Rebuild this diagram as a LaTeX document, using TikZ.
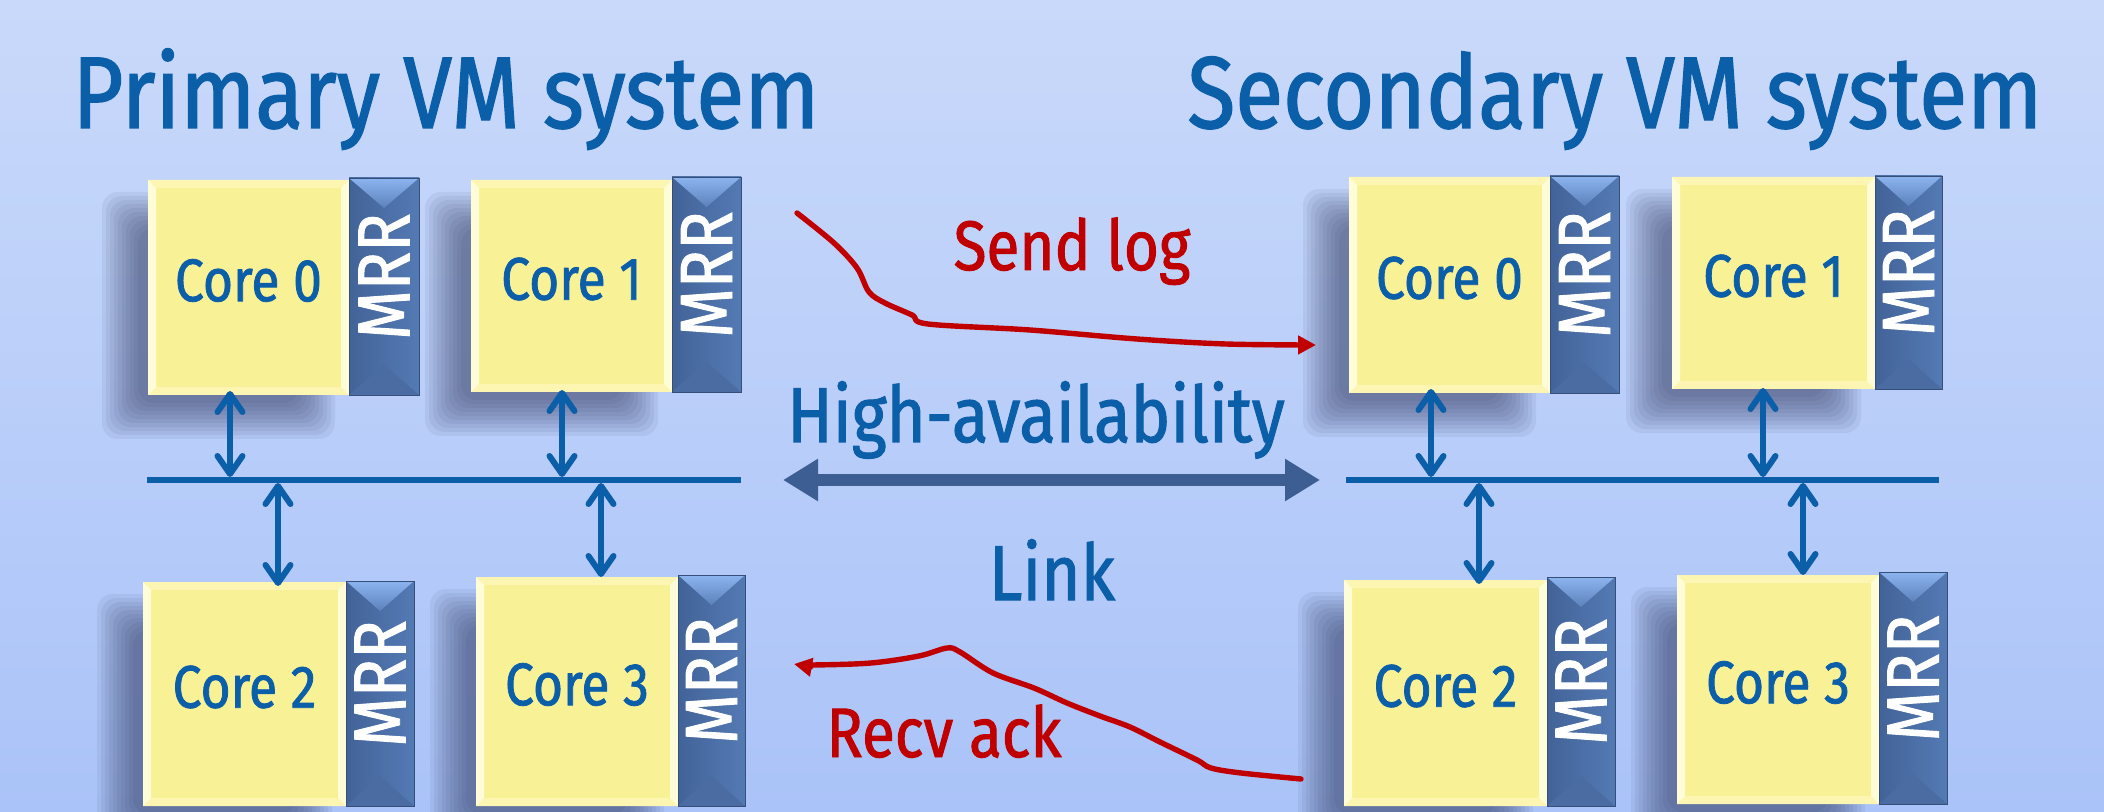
\documentclass[tikz,border=0pt]{standalone}
\usepackage{fontspec}
\setmainfont{Fira Sans}[FakeStretch=0.86, FakeBold=1.3]
\usetikzlibrary{arrows.meta}
\definecolor{bgtop}{RGB}{201,217,250}
\definecolor{bgbot}{RGB}{170,195,248}
\definecolor{txtblue}{RGB}{11,94,168}
\definecolor{linkblue}{RGB}{61,94,146}
\definecolor{logred}{RGB}{192,0,0}
\definecolor{coreyel}{RGB}{249,241,150}
\definecolor{yelhi}{RGB}{255,253,215}
\definecolor{yelmid}{RGB}{252,246,178}
\definecolor{mrrdark}{RGB}{66,99,152}
\definecolor{mrrlight}{RGB}{84,122,180}
\definecolor{mrrtopA}{RGB}{140,180,238}
\definecolor{mrrtopB}{RGB}{92,130,188}
\definecolor{mrrbot}{RGB}{74,108,163}
\definecolor{shadowcol}{RGB}{40,50,90}
\tikzset{
  corebox/.style={fill=coreyel, inner sep=0pt, outer sep=0pt, anchor=north west},
  corelabel/.style={text=txtblue, inner sep=0pt, font=\fontsize{30}{32}\selectfont},
  mrrbox/.style={left color=mrrdark, right color=mrrlight, inner sep=0pt, outer sep=0pt, anchor=north west},
  mrrtext/.style={rotate=90, text=white, inner sep=0pt, font=\fontsize{37}{39}\selectfont},
  busline/.style={draw=txtblue, line width=2.6pt},
  busarrow/.style={draw=txtblue, line width=3pt,
    {Straight Barb[length=9pt,width=12.5pt,round]}-{Straight Barb[length=9pt,width=12.5pt,round]}},
  haarrow/.style={draw=linkblue, line width=6pt,
    {Triangle[length=17.5pt,width=20pt]}-{Triangle[length=17.5pt,width=20pt]}},
  logcurve/.style={draw=logred, line width=2.7pt, line cap=round, line join=round},
  title/.style={text=txtblue, inner sep=0pt, anchor=base west, font=\fontsize{51}{54}\selectfont},
  midtext/.style={text=txtblue, inner sep=0pt, anchor=base, font=\fontsize{39}{42}\selectfont},
  redtext/.style={text=logred, inner sep=0pt, anchor=base, font=\fontsize{35}{38}\selectfont},
}
% #1 name, #2 yellow left, #3 yellow right / MRR left, #4 MRR right,
% #5 yellow top, #6 bottom, #7 label, #8 MRR top
\newcommand\coreunit[8]{%
  \foreach \k in {0,...,9}{%
    \fill[shadowcol, opacity=0.07, rounded corners=8pt]
      ({#2-30-16+4*\k},{#5+28-16+4*\k}) rectangle ({#3-30+16-4*\k},{#6+28+16-4*\k});}
  \node[corebox, minimum width={(#3-#2)*0.5pt}, minimum height={(#6-#5)*0.5pt}] (#1) at (#2,#5) {};
  \fill[yelmid] (#2,#5) -- (#3,#5) -- ({#3-8},{#5+8}) -- ({#2+8},{#5+8}) -- cycle;
  \fill[yelmid] (#2,#6) -- (#3,#6) -- ({#3-8},{#6-8}) -- ({#2+8},{#6-8}) -- cycle;
  \fill[yelhi] (#2,#5) -- ({#2+8},{#5+8}) -- ({#2+8},{#6-8}) -- (#2,#6) -- cycle;
  \fill[yelhi] (#3,#5) -- ({#3-8},{#5+8}) -- ({#3-8},{#6-8}) -- (#3,#6) -- cycle;
  \node[corelabel] (#1t) at ([yshift=3.5pt]#1.center) {#7};
  \node[mrrbox, minimum width={(#4-#3)*0.5pt}, minimum height={(#6-#8)*0.5pt}] (#1m) at (#3,#8) {};
  \shade[top color=mrrtopA, bottom color=mrrtopB] (#3,#8) -- (#4,#8) -- ({(#3+#4)/2},{#8+30}) -- cycle;
  \fill[mrrbot] (#3,#6) -- (#4,#6) -- ({(#3+#4)/2},{#6-30}) -- cycle;
  \draw[mrrdark!80!black, line width=0.4pt] (#3,#8) rectangle (#4,#6);
  \node[mrrtext] (#1r) at ([yshift=5pt]#1m.center) {MRR};
}
\begin{document}
\begin{tikzpicture}[x=0.5pt, y=-0.5pt]
\useasboundingbox (0,0) rectangle (2104,812);
\shade[top color=bgtop, bottom color=bgbot] (0,0) rectangle (2104,812);

% titles
\node[title] (ptitle) at (72,128) {Primary VM system};
\node[title] (stitle) at (1187,128) {Secondary VM system};

% primary cores
\coreunit{p0}{148}{349}{419}{180}{395}{Core 0}{178}
\coreunit{p1}{471}{672}{741}{180}{392}{Core 1}{177}
\coreunit{p2}{143}{346}{414}{582}{806}{Core 2}{581}
\coreunit{p3}{476}{678}{745}{577}{806}{Core 3}{575}
% secondary cores
\coreunit{s0}{1349}{1550}{1619}{177}{393}{Core 0}{176}
\coreunit{s1}{1672}{1875}{1942}{177}{389}{Core 1}{176}
\coreunit{s2}{1344}{1547}{1615}{580}{806}{Core 2}{577}
\coreunit{s3}{1677}{1879}{1947}{575}{804}{Core 3}{572}

% buses
\coordinate (pbl) at (147,480);
\coordinate (pbr) at (741,480);
\coordinate (sbl) at (1346,480);
\coordinate (sbr) at (1939,480);
\draw[busline] (pbl) -- (pbr);
\draw[busline] (sbl) -- (sbr);

% bus taps
\coordinate (pa0) at (230,477);
\coordinate (pa1) at (562,477);
\coordinate (pc2) at (278,483);
\coordinate (pc3) at (601,483);
\coordinate (sa0) at (1431,477);
\coordinate (sa1) at (1763,477);
\coordinate (sc2) at (1479,483);
\coordinate (sc3) at (1803,483);
\draw[busarrow, shorten <=-2pt] (p0.south -| pa0) -- (pa0);
\draw[busarrow, shorten <=-1pt] (p1.south -| pa1) -- (pa1);
\draw[busarrow, shorten >=-2pt] (pc2) -- (p2.north -| pc2);
\draw[busarrow] (pc3) -- (p3.north -| pc3);
\draw[busarrow, shorten <=-2pt] (s0.south -| sa0) -- (sa0);
\draw[busarrow, shorten <=-0.5pt] (s1.south -| sa1) -- (sa1);
\draw[busarrow, shorten >=-2pt] (sc2) -- (s2.north -| sc2);
\draw[busarrow] (sc3) -- (s3.north -| sc3);

% high availability link
\draw[haarrow, shorten <=21pt, shorten >=13pt] (pbr) -- (sbl);
\node[midtext] (ha) at (1036,442) {High-availability};
\node[midtext] (link) at (1052,600) {Link};

% send log
\coordinate (sendA) at (797,213);
\coordinate (sendB) at (1316,345);
\draw[logcurve, -{Triangle[length=9pt,width=9pt]}] plot[smooth, tension=0.55] coordinates {
  (sendA) (834,243) (857,268) (869,292) (885,303) (912,315) (928,324)
  (1030,330) (1137,339) (1226,344) (sendB)};
\node[redtext] (sendlog) at (1072,270) {Send log};

% recv ack
\coordinate (recvA) at (1301,779);
\coordinate (recvB) at (794,664);
\draw[logcurve, -{Triangle[length=9pt,width=9pt]}] plot[smooth, tension=0.55] coordinates {
  (recvA) (1241,773) (1211,768) (1197,760) (1160,742) (1130,727) (1100,716)
  (1067,703) (1034,688) (993,673) (960,652) (947,648) (919,656) (871,663)
  (812,665) (recvB)};
\node[redtext] (recvack) at (944,757) {Recv ack};
\end{tikzpicture}
\end{document}
